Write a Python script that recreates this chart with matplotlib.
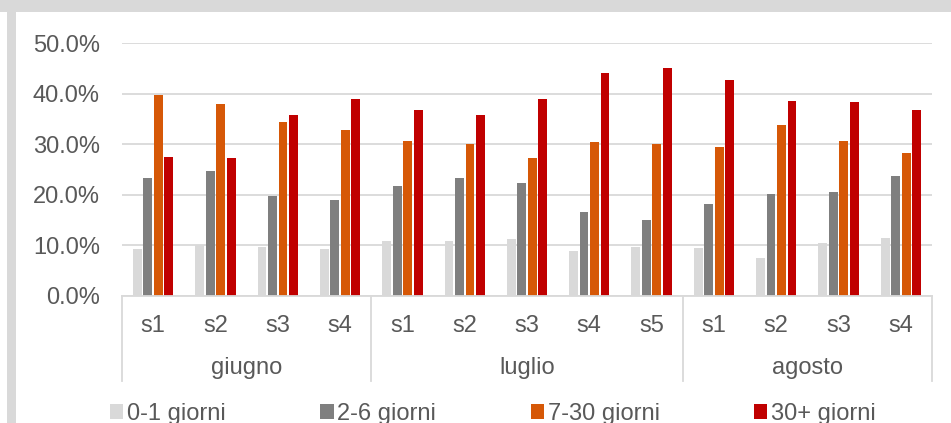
import matplotlib
matplotlib.use("Agg")
import matplotlib.pyplot as plt
from matplotlib.patches import Rectangle
from matplotlib.ticker import FuncFormatter
import numpy as np

plt.rcParams['font.family'] = ['Liberation Sans', 'DejaVu Sans']

months = ["giugno", "luglio", "agosto"]
weeks_per_month = [4, 5, 4]
week_labels = ["s1", "s2", "s3", "s4", "s1", "s2", "s3", "s4", "s5", "s1", "s2", "s3", "s4"]
series_names = ["0-1 giorni", "2-6 giorni", "7-30 giorni", "30+ giorni"]
g01 = [9.2, 10.0, 9.6, 9.2, 10.8, 10.8, 11.2, 8.8, 9.6, 9.4, 7.5, 10.4, 11.4]
g26 = [23.3, 24.7, 19.7, 18.9, 21.7, 23.4, 22.4, 16.5, 14.9, 18.2, 20.2, 20.5, 23.7]
g730 = [39.8, 38.0, 34.5, 32.9, 30.6, 30.0, 27.3, 30.5, 30.0, 29.4, 33.8, 30.6, 28.2]
g30p = [27.4, 27.3, 35.8, 38.9, 36.8, 35.7, 39.0, 44.1, 45.2, 42.7, 38.6, 38.3, 36.7]
yticks = [0, 10, 20, 30, 40, 50]

colors = ["#d9d9d9", "#7f7f7f", "#d65807", "#c00000"]
text_color = "#595959"
grid_color = "#d9d9d9"

W, H = 951, 423
fig = plt.figure(figsize=(W / 100, H / 100), dpi=100)
fig.patch.set_facecolor("white")

ax = fig.add_axes([122 / W, (H - 295.6) / H, (932 - 122) / W, (295.6 - 43.3) / H])

n = len(week_labels)
x = np.arange(n)
slot = 0.168
bw = 0.142
handles = []
for i, (vals, c) in enumerate(zip([g01, g26, g730, g30p], colors)):
    offs = (i - 1.5) * slot
    b = ax.bar(x + offs, vals, width=bw, color=c, label=series_names[i], zorder=3)
    handles.append(b)

ax.set_xlim(-0.5, n - 0.5)
ax.set_ylim(0, 50)
ax.set_yticks(yticks)
ax.yaxis.set_major_formatter(FuncFormatter(lambda v, p: f"{v:.1f}%"))
ax.grid(axis="y", color=grid_color, linewidth=1.3, zorder=0)
ax.grid(axis="x", visible=False)
for s in ax.spines.values():
    s.set_visible(False)
ax.axhline(0, color=grid_color, linewidth=1.3, zorder=4, clip_on=False)

ax.set_xticks(x, week_labels)
ax.tick_params(axis="x", length=0, pad=14, labelsize=17, labelcolor=text_color)
ax.tick_params(axis="y", length=0, pad=16, labelsize=17, labelcolor=text_color)

# month group labels and separators
trans = ax.get_xaxis_transform()
sep_bottom = -(381 - 295.6) / (295.6 - 43.3)
month_y = -(374 - 295.6) / (295.6 - 43.3)
start = 0
bounds = [-0.5]
for m, k in zip(months, weeks_per_month):
    center = start + (k - 1) / 2
    ax.text(center, month_y, m, transform=trans, ha="center", va="baseline",
            fontsize=17, color=text_color)
    start += k
    bounds.append(start - 0.5)
for bx in bounds:
    ax.plot([bx, bx], [0, sep_bottom], transform=trans, color=grid_color,
            linewidth=1.3, clip_on=False)

leg = fig.legend(handles=handles, labels=series_names, ncol=4, loc="center left",
                 bbox_to_anchor=(110 / W, (H - 414) / H), frameon=False,
                 fontsize=17, labelcolor=text_color, handlelength=0.57,
                 handleheight=0.57, handletextpad=0.15, columnspacing=4.0,
                 borderpad=0, borderaxespad=0)

# border bands
fig.patches.append(Rectangle((0, (H - 12) / H), 1, 12 / H, transform=fig.transFigure,
                             facecolor="#d9d9d9", edgecolor="none", zorder=-1))
fig.patches.append(Rectangle((7 / W, 0), 9 / W, 1, transform=fig.transFigure,
                             facecolor="#d9d9d9", edgecolor="none", zorder=-1))

fig.savefig("out.png", dpi=100)
